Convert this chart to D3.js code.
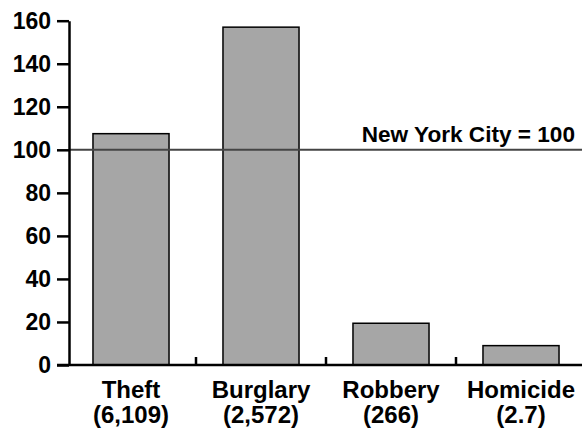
<!DOCTYPE html>
<html>
<head>
<meta charset="utf-8">
<script src="https://cdn.jsdelivr.net/npm/d3@7"></script>
<style>
  body { margin: 0; background: #fff; }
  text { font-family: "Liberation Sans", Arial, sans-serif; font-weight: bold; fill: #000; }
</style>
</head>
<body>
<div id="chart"></div>
<script>
var categories = ["Theft", "Burglary", "Robbery", "Homicide"];
var counts = ["(6,109)", "(2,572)", "(266)", "(2.7)"];
var values = [107.5, 157, 19.4, 9];
var yTicks = [0, 20, 40, 60, 80, 100, 120, 140, 160];
var refValue = 100;
var refLabel = "New York City = 100";

var width = 582, height = 435;

var svg = d3.select("#chart")
  .append("svg")
    .attr("width", width)
    .attr("height", height);

var x = d3.scaleBand()
  .domain(categories)
  .range([66, 586])
  .padding(0);

var y = d3.scaleLinear()
  .domain([0, 160])
  .range([365, 20.7]);

var barW = x.bandwidth() * 0.585;

// bars
svg.append("g")
  .selectAll("rect")
  .data(values)
  .enter()
  .append("rect")
    .attr("x", function(d, i) { return x(categories[i]) + (x.bandwidth() - barW) / 2; })
    .attr("y", function(d) { return y(d); })
    .attr("width", barW)
    .attr("height", function(d) { return y(0) - y(d); })
    .attr("fill", "#a6a6a6")
    .attr("stroke", "#000")
    .attr("stroke-width", 1.5);

// reference line
svg.append("line")
  .attr("x1", 69).attr("x2", width)
  .attr("y1", y(refValue)).attr("y2", y(refValue))
  .attr("stroke", "#444")
  .attr("stroke-width", 2);

svg.append("text")
  .attr("x", 575)
  .attr("y", y(refValue) - 8)
  .attr("text-anchor", "end")
  .style("font-size", "22.6px")
  .text(refLabel);

// y axis
var yAxis = svg.append("g")
  .attr("transform", "translate(69,0)")
  .call(d3.axisLeft(y).tickValues(yTicks).tickSize(12).tickPadding(6).tickSizeOuter(0));
yAxis.select(".domain").attr("stroke", "#000").attr("stroke-width", 2.5);
yAxis.selectAll(".tick line").attr("stroke", "#000").attr("stroke-width", 2.5);
yAxis.selectAll(".tick text")
  .style("font-size", "23px")
  .style("font-family", "'Liberation Sans', Arial, sans-serif")
  .style("font-weight", "bold");

// x axis line
svg.append("line")
  .attr("x1", 57).attr("x2", width)
  .attr("y1", y(0)).attr("y2", y(0))
  .attr("stroke", "#000")
  .attr("stroke-width", 2.5);

// x ticks at category boundaries
svg.append("g")
  .selectAll("line")
  .data(categories.slice(1))
  .enter()
  .append("line")
    .attr("x1", function(d) { return x(d); })
    .attr("x2", function(d) { return x(d); })
    .attr("y1", y(0))
    .attr("y2", y(0) - 8)
    .attr("stroke", "#000")
    .attr("stroke-width", 2.5);

// category labels
var labels = svg.append("g")
  .selectAll("text")
  .data(categories)
  .enter()
  .append("text")
    .attr("text-anchor", "middle")
    .style("font-size", "24px");
labels.append("tspan")
  .attr("x", function(d) { return x(d) + x.bandwidth() / 2; })
  .attr("y", 398)
  .text(function(d) { return d; });
labels.append("tspan")
  .attr("x", function(d) { return x(d) + x.bandwidth() / 2; })
  .attr("y", 423)
  .text(function(d, i) { return counts[i]; });
</script>
</body>
</html>
